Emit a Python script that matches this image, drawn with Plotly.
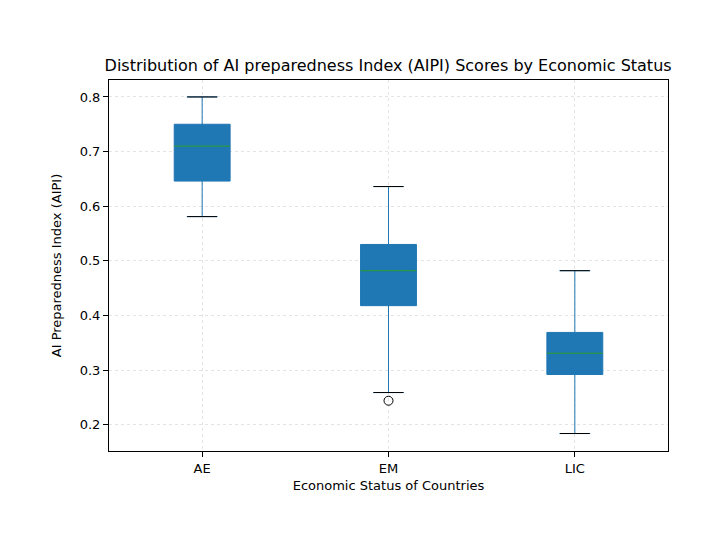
import plotly.graph_objects as go

categories = ["AE", "EM", "LIC"]
lower = [0.581, 0.259, 0.184]
q1 = [0.646, 0.418, 0.292]
median = [0.710, 0.482, 0.331]
q3 = [0.750, 0.530, 0.369]
upper = [0.800, 0.636, 0.482]
outlier_cat = [2]
outlier_val = [0.244]

pos = [1, 2, 3]
half = 0.15

fig = go.Figure()
fig.add_trace(go.Box(
    x=pos, q1=q1, median=median, q3=q3, lowerfence=lower, upperfence=upper,
    width=0.3, whiskerwidth=0.55, fillcolor="#1f77b4",
    line=dict(color="#1f77b4", width=1), boxpoints=False, showlegend=False,
))
# caps drawn black like matplotlib
cx, cy = [], []
for p, lo, hi in zip(pos, lower, upper):
    cx += [p - 0.08, p + 0.08, None, p - 0.08, p + 0.08, None]
    cy += [lo, lo, None, hi, hi, None]
fig.add_trace(go.Scatter(x=cx, y=cy, mode="lines", line=dict(color="black", width=1),
                         showlegend=False, hoverinfo="skip"))
mx, my = [], []
for p, m in zip(pos, median):
    mx += [p - half, p + half, None]
    my += [m, m, None]
fig.add_trace(go.Scatter(x=mx, y=my, mode="lines", line=dict(color="#2ca02c", width=1),
                         showlegend=False, hoverinfo="skip"))
fig.add_trace(go.Scatter(x=outlier_cat, y=outlier_val, mode="markers",
                         marker=dict(symbol="circle-open", size=9, color="black", line=dict(width=1)),
                         showlegend=False))

axis_common = dict(showline=True, linecolor="black", mirror=True, ticks="outside",
                   tickcolor="black", showgrid=True, gridcolor="#e4e4e4", griddash="dot",
                   gridwidth=0.6, zeroline=False, automargin=False,
                   tickfont=dict(size=13, color="black"))
fig.update_xaxes(range=[0.5, 3.5], tickvals=pos, ticktext=categories,
                 title=dict(text="Economic Status of Countries", standoff=6,
                            font=dict(size=13, color="black")),
                 **axis_common)
fig.update_yaxes(range=[0.152, 0.831], tickvals=[0.2, 0.3, 0.4, 0.5, 0.6, 0.7, 0.8],
                 tickformat=".1f",
                 title=dict(text="AI Preparedness Index (AIPI)", font=dict(size=13, color="black")),
                 **axis_common)
fig.update_layout(
    width=724, height=536, plot_bgcolor="white", paper_bgcolor="white",
    margin=dict(l=101, r=64, t=72, b=93),
    font=dict(family="DejaVu Sans", color="black"),
    title=dict(text="Distribution of AI preparedness Index (AIPI) Scores by Economic Status",
               x=0.525, xanchor="center", y=0.892, yanchor="middle", font=dict(size=16)),
)
fig.write_html("out.html")
